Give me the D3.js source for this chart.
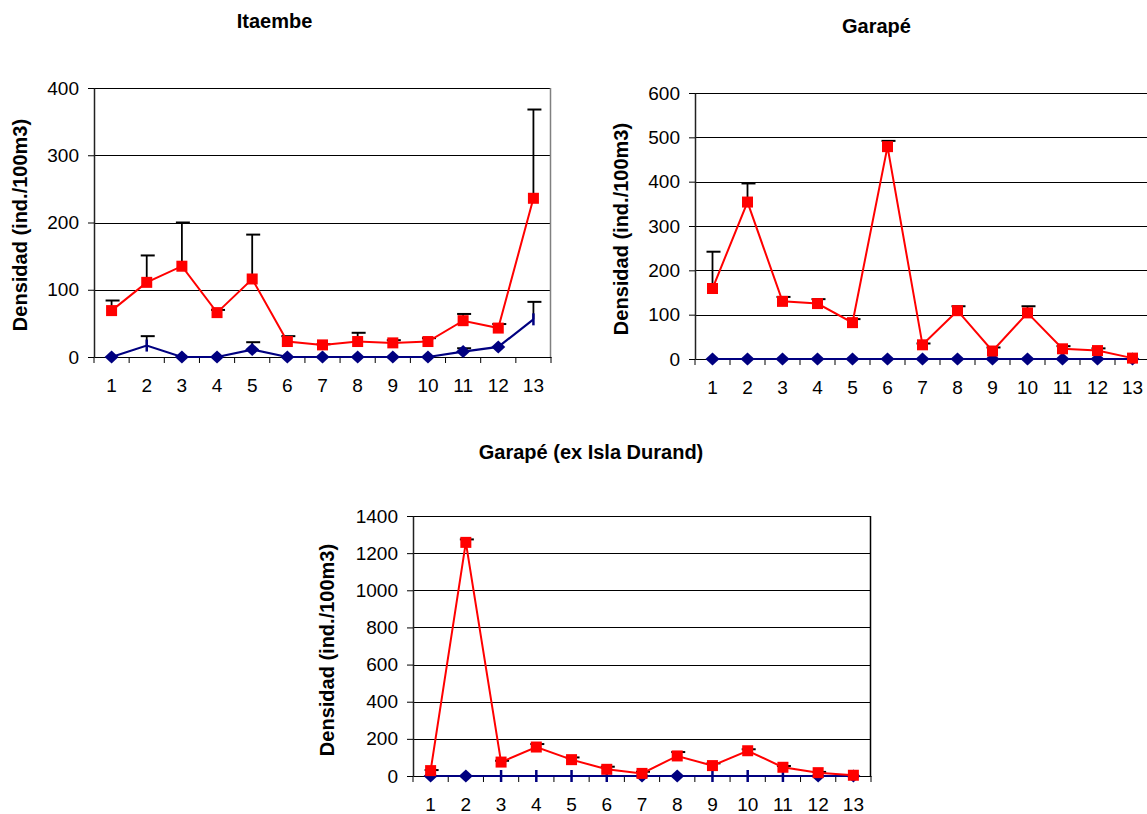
<!DOCTYPE html>
<html>
<head>
<meta charset="utf-8">
<script src="https://cdn.jsdelivr.net/npm/d3@7"></script>
<style>
  body { margin: 0; background: #fff; }
  svg { display: block; font-family: Arial, "Liberation Sans", sans-serif; }
</style>
</head>
<body>
<svg id="chart" width="1147" height="814"></svg>
<script>
// categorias (muestreos)
const categories = ['1','2','3','4','5','6','7','8','9','10','11','12','13'];

// Itaembe
const itaTicks = [0, 100, 200, 300, 400];
const itaRed = [69, 111, 135, 66, 116, 23, 18, 23, 21, 23, 54, 43, 236];
const itaRedErr = [15, 40, 65, 4, 66, 8, 1, 13, 4, 5, 10, 6, 132];
const itaBlue = [0, 17, 0, 0, 11, 0, 0, 0, 0, 0, 8, 15, 56];
const itaBlueErr = [0, 14, 0, 0, 11, 0, 0, 0, 0, 0, 5, 0, 26];
const itaBlueNoMarker = ['2', '13'];

// Garapé
const garTicks = [0, 100, 200, 300, 400, 500, 600];
const garRed = [159, 354, 130, 125, 82, 479, 32, 109, 18, 104, 23, 19, 2];
const garRedErr = [83, 42, 10, 10, 8, 13, 3, 10, 8, 15, 6, 5, 0];
const garBlue = [0, 0, 0, 0, 0, 0, 0, 0, 0, 0, 0, 0, 0];
const garBlueErr = [0, 0, 0, 0, 0, 0, 0, 0, 0, 0, 0, 0, 0];
const garBlueNoMarker = [];

// Garapé (ex Isla Durand)
const durTicks = [0, 200, 400, 600, 800, 1000, 1200, 1400];
const durRed = [29, 1258, 75, 156, 88, 36, 14, 108, 56, 136, 47, 18, 4];
const durRedErr = [3, 16, 7, 16, 12, 14, 9, 21, 12, 8, 7, 4, 0];
const durBlue = [0, 0, 0, 0, 0, 0, 0, 0, 0, 0, 0, 0, 0];
const durBlueErr = [0, 0, 0, 0, 0, 0, 0, 0, 0, 0, 0, 0, 0];
const durBlueNoMarker = ['3', '4', '5', '6', '9', '10', '11'];

const yTitle = 'Densidad (ind./100m3)';

const charts = [
    { title: 'Itaembe', titleX: 274.5, titleY: 28, left: 94, right: 551, top: 88, bottom: 357,
      ticks: itaTicks, red: itaRed, redErr: itaRedErr, blue: itaBlue, blueErr: itaBlueErr,
      noMarker: itaBlueNoMarker, labelX: 27, labelY: 225, border: '#808080' },
    { title: 'Garapé', titleX: 876.5, titleY: 33, left: 695, right: 1150, top: 93, bottom: 359,
      ticks: garTicks, red: garRed, redErr: garRedErr, blue: garBlue, blueErr: garBlueErr,
      noMarker: garBlueNoMarker, labelX: 628, labelY: 229, border: '#808080' },
    { title: 'Garapé (ex Isla Durand)', titleX: 591, titleY: 459, left: 413, right: 871, top: 516, bottom: 776,
      ticks: durTicks, red: durRed, redErr: durRedErr, blue: durBlue, blueErr: durBlueErr,
      noMarker: durBlueNoMarker, labelX: 334, labelY: 650, border: '#000' }
];

const svg = d3.select('#chart');

charts.forEach(c => {
    const g = svg.append('g');
    const x = d3.scaleBand().domain(categories).range([c.left, c.right]);
    const cx = d => x(d) + x.bandwidth() / 2;
    const y = d3.scaleLinear().domain([0, d3.max(c.ticks)]).range([c.bottom, c.top]);

    // title
    g.append('text')
        .attr('x', c.titleX).attr('y', c.titleY)
        .attr('text-anchor', 'middle')
        .attr('font-size', 20).attr('font-weight', 'bold')
        .text(c.title);

    // y title
    g.append('text')
        .attr('transform', `translate(${c.labelX},${c.labelY}) rotate(-90)`)
        .attr('text-anchor', 'middle')
        .attr('font-size', 20).attr('font-weight', 'bold')
        .text(yTitle);

    // gridlines
    g.selectAll('.grid')
        .data(c.ticks.filter(t => t > 0))
        .enter().append('line')
        .attr('x1', c.left).attr('x2', c.right)
        .attr('y1', d => Math.round(y(d)) + 0.5).attr('y2', d => Math.round(y(d)) + 0.5)
        .attr('stroke', '#000').attr('stroke-width', 1);

    // right border
    g.append('line')
        .attr('x1', c.right - 0.5).attr('x2', c.right - 0.5)
        .attr('y1', c.top).attr('y2', c.bottom)
        .attr('stroke', c.border).attr('stroke-width', 1.5);

    // y axis
    const yAxis = g.append('g')
        .attr('transform', `translate(${c.left},0)`)
        .call(d3.axisLeft(y).tickValues(c.ticks).tickFormat(d3.format('d'))
            .tickSize(6).tickSizeOuter(0).tickPadding(9));
    yAxis.select('.domain').attr('stroke', '#222').attr('stroke-width', 1.5);
    yAxis.selectAll('.tick line').attr('stroke', '#000');
    yAxis.selectAll('text').attr('font-size', 19).attr('font-family', null).attr('fill', '#000');

    // x axis
    const xAxis = g.append('g')
        .attr('transform', `translate(0,${c.bottom})`)
        .call(d3.axisBottom(x).tickSize(0).tickPadding(22).tickSizeOuter(0));
    xAxis.select('.domain').attr('stroke', '#000').attr('stroke-width', 1);
    xAxis.selectAll('text').attr('font-size', 19).attr('font-family', null).attr('fill', '#000');
    g.selectAll('.xtick')
        .data(categories.concat(['end']))
        .enter().append('line')
        .attr('x1', d => d === 'end' ? c.right : x(d))
        .attr('x2', d => d === 'end' ? c.right : x(d))
        .attr('y1', c.bottom).attr('y2', c.bottom + 6)
        .attr('stroke', '#000');

    const rows = categories.map((k, i) => ({
        k, red: c.red[i], redErr: c.redErr[i], blue: c.blue[i], blueErr: c.blueErr[i]
    }));

    // error bars
    const errBars = (key, errKey) => {
        const withErr = rows.filter(r => r[errKey] > 0);
        g.selectAll(null).data(withErr).enter().append('line')
            .attr('x1', r => cx(r.k)).attr('x2', r => cx(r.k))
            .attr('y1', r => y(r[key])).attr('y2', r => y(r[key] + r[errKey]))
            .attr('stroke', '#000').attr('stroke-width', 1.8);
        g.selectAll(null).data(withErr).enter().append('line')
            .attr('x1', r => cx(r.k) - 6).attr('x2', r => cx(r.k) + 8)
            .attr('y1', r => y(r[key] + r[errKey])).attr('y2', r => y(r[key] + r[errKey]))
            .attr('stroke', '#000').attr('stroke-width', 2);
    };
    errBars('blue', 'blueErr');

    // blue series
    g.append('path')
        .datum(rows)
        .attr('fill', 'none').attr('stroke', '#000080').attr('stroke-width', 2.2)
        .attr('d', d3.line().x(r => cx(r.k)).y(r => y(r.blue)));
    g.selectAll(null).data(rows.filter(r => !c.noMarker.includes(r.k))).enter().append('path')
        .attr('transform', r => `translate(${cx(r.k)},${y(r.blue)})`)
        .attr('d', 'M0,-6.5L7,0L0,6.5L-7,0Z')
        .attr('fill', '#000080');
    g.selectAll(null).data(rows.filter(r => c.noMarker.includes(r.k))).enter().append('line')
        .attr('x1', r => cx(r.k)).attr('x2', r => cx(r.k))
        .attr('y1', r => y(r.blue) - 6).attr('y2', r => y(r.blue) + 6)
        .attr('stroke', '#000080').attr('stroke-width', 2.5);

    errBars('red', 'redErr');

    // red series
    g.append('path')
        .datum(rows)
        .attr('fill', 'none').attr('stroke', '#ff0000').attr('stroke-width', 2)
        .attr('d', d3.line().x(r => cx(r.k)).y(r => y(r.red)));
    g.selectAll(null).data(rows).enter().append('rect')
        .attr('x', r => cx(r.k) - 5.5).attr('y', r => y(r.red) - 5.5)
        .attr('width', 11).attr('height', 11)
        .attr('fill', '#ff0000');
});
</script>
</body>
</html>
